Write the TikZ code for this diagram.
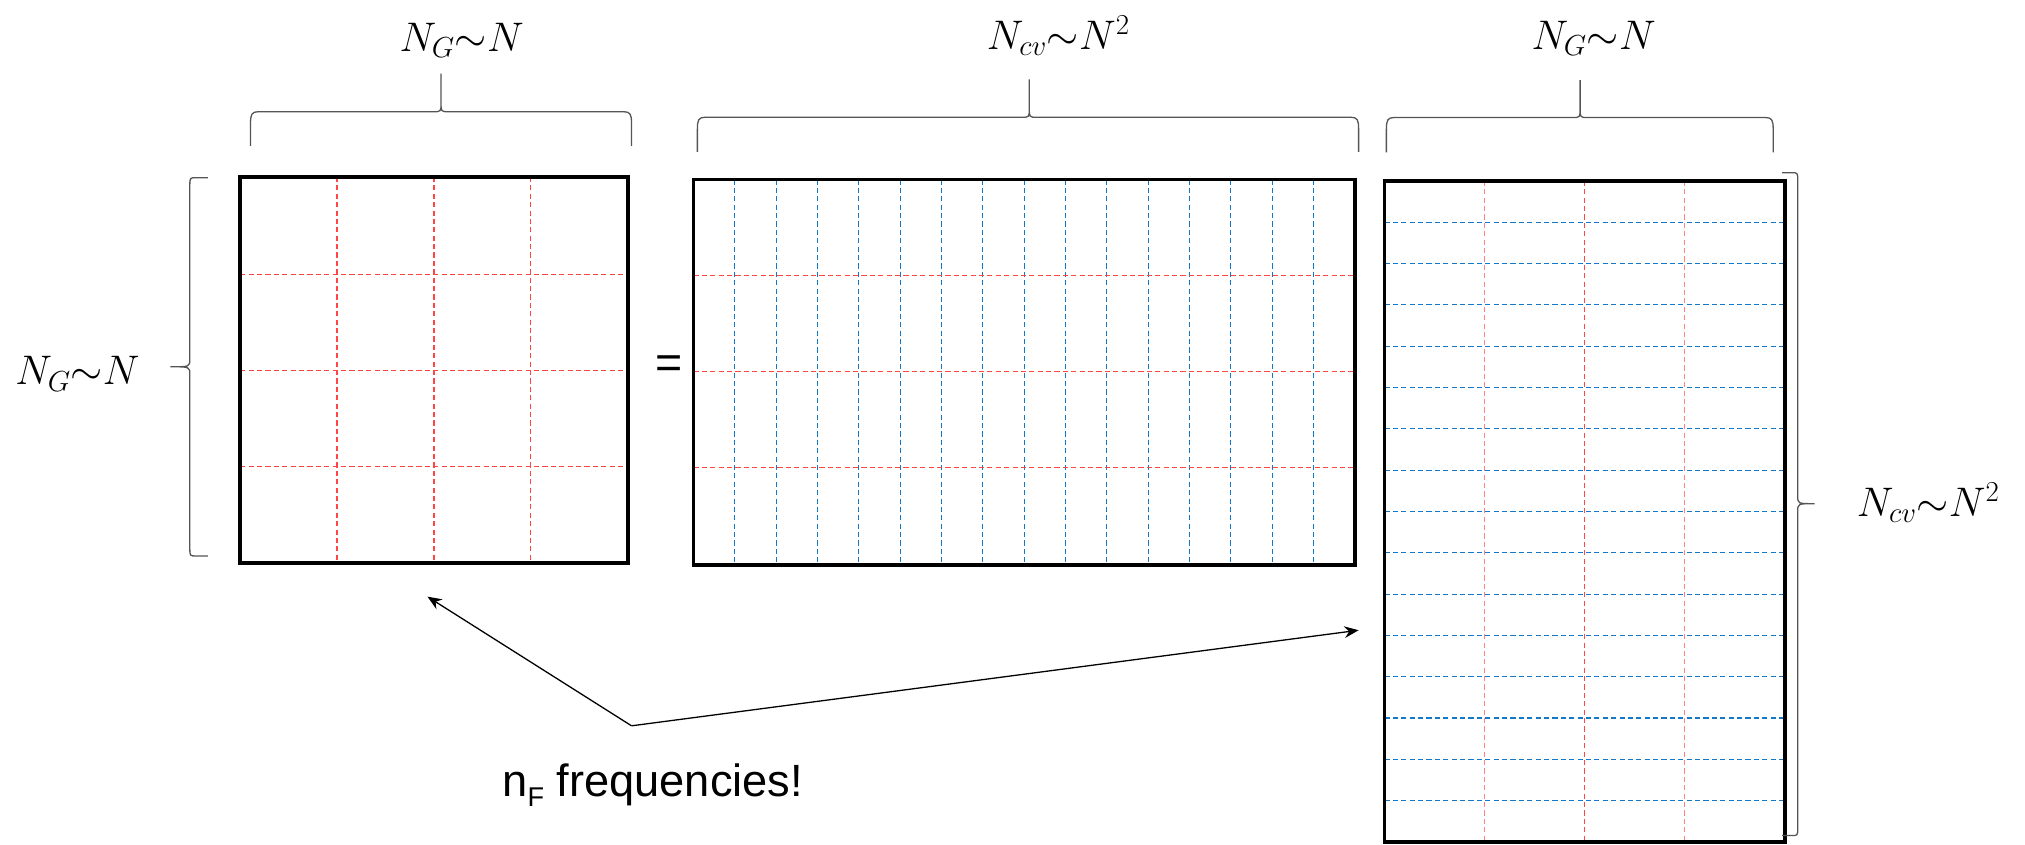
\RequirePackage{fix-cm}
\documentclass[tikz,border=0pt]{standalone}
\usepackage{fontspec}
\newfontfamily\arialfont{Liberation Sans}
\usetikzlibrary{arrows.meta}
\definecolor{gridred}{RGB}{255,70,70}
\definecolor{gridpink}{RGB}{255,130,130}
\definecolor{gridblue}{RGB}{20,120,200}
\definecolor{bracegray}{RGB}{85,85,85}
\tikzset{
  matbox/.style={draw=black, line width=3pt, fill=none, inner sep=0pt, outer sep=0pt},
  redgrid/.style={draw=gridred, line width=0.9pt, dash pattern=on 4pt off 2.5pt},
  pinkgrid/.style={draw=gridpink, line width=1pt, dash pattern=on 4pt off 2.5pt},
  bluegrid/.style={draw=gridblue, line width=0.9pt, dash pattern=on 4pt off 2.5pt},
  bracestyle/.style={draw=bracegray, line width=1pt},
  mathlabel/.style={anchor=base, inner sep=0pt, font=\fontsize{32}{36}\selectfont},
  connector/.style={draw=black, line width=1pt, -{Stealth[length=11pt,width=9pt]}},
}
% top brace: x1 xm x2 yb yh yt
\newcommand{\topbrace}[6]{%
  \draw[bracestyle] (#1,#4) -- (#1,{#5+9}) .. controls (#1,{#5+2}) and ({#1+1},#5) .. ({#1+6},#5)
    -- ({#2-6},#5) .. controls (#2,#5) .. (#2,{#5-7}) -- (#2,#6)
    (#2,{#5-7}) .. controls (#2,#5) .. ({#2+6},#5)
    -- ({#3-6},#5) .. controls ({#3-1},#5) and (#3,{#5+2}) .. (#3,{#5+9}) -- (#3,#4);}
% side brace: y1 ym y2 xe xv xt s
\newcommand{\sidebrace}[7]{%
  \draw[bracestyle] (#4,#1) -- ({#5+#7*5},#1) .. controls (#5,#1) .. (#5,{#1+6})
    -- (#5,{#2-6}) .. controls (#5,#2) .. (#6,#2)
    .. controls (#5,#2) .. (#5,{#2+6})
    -- (#5,{#3-6}) .. controls (#5,#3) .. ({#5+#7*5},#3) -- (#4,#3);}
\begin{document}
\begin{tikzpicture}[x=1pt,y=-1pt]
\fill[white] (0,0) rectangle (1568,654);
\useasboundingbox (0,0) rectangle (1568,654);

% ---- left matrix A: x 186-486, y 137-436
\foreach \x in {261,336,411} \draw[redgrid] (\x,137) -- (\x,436);
\foreach \y in {212.5,287,361.5} \draw[redgrid] (186,\y) -- (486,\y);
\node[matbox, minimum width=300pt, minimum height=299pt] (A) at (336,286.5) {};

% ---- middle matrix B: x 537-1049, y 139-437.5
\foreach \k in {1,...,15} \draw[bluegrid] ({537+32*\k},139) -- ({537+32*\k},437.5);
\foreach \y in {213,287.5,362} \draw[redgrid] (537,\y) -- (1049,\y);
\node[matbox, minimum width=512pt, minimum height=298.5pt] (B) at (793,288.25) {};

% ---- right matrix C: x 1072-1382, y 140-652
\foreach \k in {1,...,15} \draw[bluegrid] (1072,{140+32*\k}) -- (1382,{140+32*\k});
\draw[pinkgrid] (1149.5,140) -- (1149.5,652);
\draw[redgrid] (1227,140) -- (1227,652);
\draw[pinkgrid] (1304.5,140) -- (1304.5,652);
\node[matbox, minimum width=310pt, minimum height=512pt] (C) at (1227,396) {};

% ---- equals sign
\node[inner sep=0pt] (eq) at (518,284.5) {\arialfont\fontsize{36}{36}\selectfont =};

% ---- braces
\topbrace{194}{341.5}{489}{113}{86.5}{57}
\topbrace{540}{797}{1052}{117.5}{90.8}{61.5}
\topbrace{1073.5}{1223.5}{1373}{118}{91}{62}
\sidebrace{137.6}{284}{430.5}{161}{147}{132}{1}
\sidebrace{133.7}{390}{647}{1380}{1392}{1405}{-1}

% ---- labels
\node[mathlabel] (lA) at (357.5,40) {$N_G{\sim}N$};
\node[mathlabel] (lB) at (819.5,38) {$N_{cv}{\sim}N^2$};
\node[mathlabel] (lC) at (1234,38) {$N_G{\sim}N$};
\node[mathlabel] (lL) at (60,298) {$N_G{\sim}N$};
\node[mathlabel] (lR) at (1493,400) {$N_{cv}{\sim}N^2$};

% ---- arrows
\coordinate (J) at (489,562);
\coordinate (TA) at (331,462);
\coordinate (TC) at (1052,488);
\draw[connector] (J) -- (TA);
\draw[connector] (J) -- (TC);

\node[anchor=base, inner sep=0pt] (nf) at (505.5,617)
  {\arialfont\fontsize{35}{40}\selectfont n\raisebox{-0.22em}{\fontsize{21}{21}\selectfont F} frequencies!};
\end{tikzpicture}
\end{document}
